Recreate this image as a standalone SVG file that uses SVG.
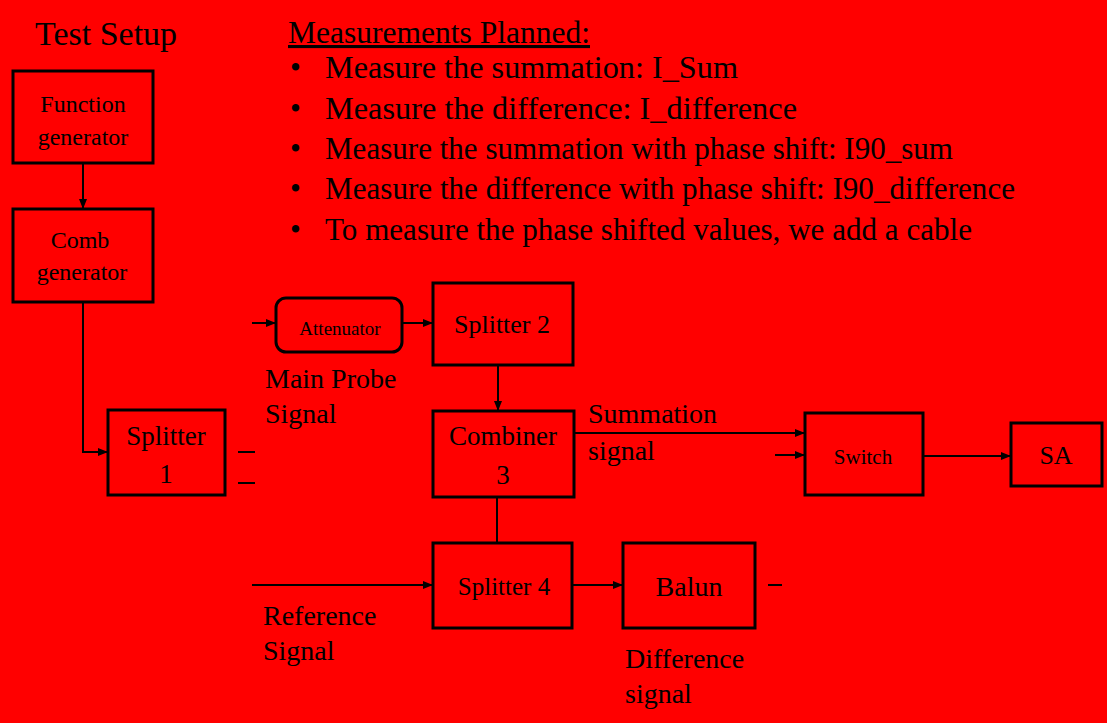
<svg xmlns="http://www.w3.org/2000/svg" width="1107" height="723" viewBox="0 0 1107 723">
<defs>
<style>
.bg{fill:#ff0000}
.box{fill:none;stroke:#000;stroke-width:3}
.t{font-family:"Liberation Serif","Times New Roman",serif;fill:#000}
.c{text-anchor:middle}
.lbl{font-size:28px}
.bul{font-size:31px}
.conn line,.conn path{stroke:#000;stroke-width:2;fill:none}
.arr{marker-end:url(#ah)}
</style>
<marker id="ah" markerUnits="userSpaceOnUse" markerWidth="10" markerHeight="10" viewBox="0 0 10 10" refX="10" refY="5" orient="auto">
<path d="M0,1 L10,5 L0,9 z" fill="#000"/>
</marker>
</defs>
<rect class="bg" x="0" y="0" width="1107" height="723"/>

<g id="titles">
<text class="t" x="35" y="45" font-size="34">Test Setup</text>
<text class="t" x="288" y="43" font-size="31" text-decoration="underline" textLength="302" lengthAdjust="spacingAndGlyphs">Measurements Planned:</text>
</g>

<g id="bullets">
<text class="t bul" x="290" y="78">•</text>
<text class="t bul" x="325" y="78" textLength="413" lengthAdjust="spacingAndGlyphs">Measure the summation: I_Sum</text>
<text class="t bul" x="290" y="119">•</text>
<text class="t bul" x="325" y="119" textLength="472" lengthAdjust="spacingAndGlyphs">Measure the difference: I_difference</text>
<text class="t bul" x="290" y="159">•</text>
<text class="t bul" x="325" y="159" textLength="628" lengthAdjust="spacingAndGlyphs">Measure the summation with phase shift: I90_sum</text>
<text class="t bul" x="290" y="199">•</text>
<text class="t bul" x="325" y="199" textLength="690" lengthAdjust="spacingAndGlyphs">Measure the difference with phase shift: I90_difference</text>
<text class="t bul" x="290" y="240">•</text>
<text class="t bul" x="325" y="240" textLength="647" lengthAdjust="spacingAndGlyphs">To measure the phase shifted values, we add a cable</text>
</g>

<g id="function-generator">
<rect class="box" x="13" y="71" width="140" height="92"/>
<text class="t c" x="83" y="112" font-size="24">Function</text>
<text class="t c" x="83" y="145" font-size="24">generator</text>
</g>
<g id="comb-generator">
<rect class="box" x="13" y="209" width="140" height="93"/>
<text class="t c" x="80" y="248" font-size="24">Comb</text>
<text class="t c" x="82" y="280" font-size="24">generator</text>
</g>
<g id="splitter-1">
<rect class="box" x="108" y="410" width="117" height="85"/>
<text class="t c" x="166" y="445" font-size="27">Splitter</text>
<text class="t c" x="166" y="483" font-size="27">1</text>
</g>
<g id="attenuator">
<rect class="box" x="276" y="298" width="126" height="54" rx="10"/>
<text class="t c" x="340" y="335" font-size="19">Attenuator</text>
</g>
<g id="splitter-2">
<rect class="box" x="433" y="283" width="140" height="82"/>
<text class="t c" x="502" y="333" font-size="26">Splitter 2</text>
</g>
<g id="combiner-3">
<rect class="box" x="433" y="411" width="141" height="86"/>
<text class="t c" x="503" y="445" font-size="27">Combiner</text>
<text class="t c" x="503" y="484" font-size="27">3</text>
</g>
<g id="splitter-4">
<rect class="box" x="433" y="543" width="139" height="85"/>
<text class="t c" x="504" y="595" font-size="25">Splitter 4</text>
</g>
<g id="balun">
<rect class="box" x="623" y="543" width="132" height="85"/>
<text class="t c" x="689" y="596" font-size="28">Balun</text>
</g>
<g id="switch">
<rect class="box" x="805" y="413" width="118" height="82"/>
<text class="t c" x="863" y="464" font-size="21">Switch</text>
</g>
<g id="sa">
<rect class="box" x="1011" y="423" width="91" height="63"/>
<text class="t c" x="1056" y="464" font-size="26">SA</text>
</g>

<g id="labels">
<text class="t lbl" x="265" y="388">Main Probe</text>
<text class="t lbl" x="265" y="423">Signal</text>
<text class="t lbl" x="588" y="423">Summation</text>
<text class="t lbl" x="588" y="460">signal</text>
<text class="t lbl" x="263" y="625">Reference</text>
<text class="t lbl" x="263" y="660">Signal</text>
<text class="t lbl" x="625" y="668">Difference</text>
<text class="t lbl" x="625" y="703">signal</text>
</g>

<g id="connectors" class="conn">
<line class="arr" x1="83" y1="163" x2="83" y2="209"/>
<path class="arr" d="M83,302 V452 H108"/>
<line x1="238" y1="452" x2="255" y2="452"/>
<line x1="238" y1="483" x2="255" y2="483"/>
<line class="arr" x1="252" y1="323" x2="276" y2="323"/>
<line class="arr" x1="402" y1="323" x2="433" y2="323"/>
<line class="arr" x1="498" y1="365" x2="498" y2="411"/>
<line class="arr" x1="574" y1="433" x2="805" y2="433"/>
<line class="arr" x1="775" y1="455" x2="805" y2="455"/>
<line class="arr" x1="923" y1="456" x2="1011" y2="456"/>
<line x1="497" y1="497" x2="497" y2="543"/>
<line class="arr" x1="252" y1="585" x2="433" y2="585"/>
<line class="arr" x1="572" y1="585" x2="623" y2="585"/>
<line x1="768" y1="585" x2="782" y2="585"/>
</g>
</svg>
